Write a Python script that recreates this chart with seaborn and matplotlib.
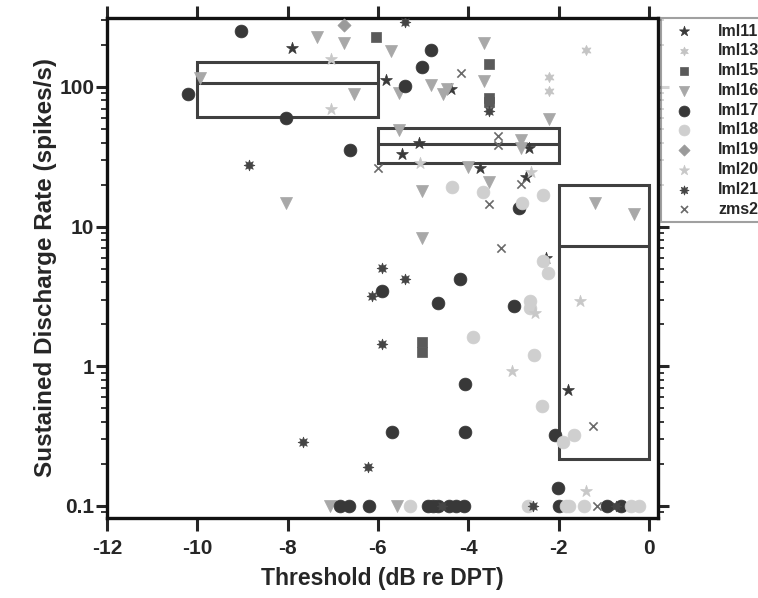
import numpy as np
import pandas as pd
import matplotlib
matplotlib.use("Agg")
import matplotlib.pyplot as plt
import seaborn as sns
from matplotlib.patches import Rectangle
from matplotlib.ticker import FixedLocator, FixedFormatter, LogLocator, NullFormatter

# --- DATA ---
units = ["lml11", "lml13", "lml15", "lml16", "lml17", "lml18", "lml19", "lml20", "lml21", "zms2"]

lml11_x = [-7.9, -5.83, -4.39, -5.1, -2.66, -5.46, -3.73, -2.73, -2.28, -1.8]
lml11_y = [189, 113, 96, 39.5, 36.3, 33, 26.1, 22.5, 6.0, 0.68]

lml13_x = [-2.22, -2.22, -1.4]
lml13_y = [117, 93, 183]

lml15_x = [-6.05, -3.53, -3.53, -3.53, -5.03, -5.03]
lml15_y = [226, 145, 84, 77.6, 1.49, 1.26]

lml16_x = [-7.34, -6.76, -9.93, -6.52, -5.72, -4.83, -5.54, -4.55, -4.46, -3.64, -3.66, -2.22,
           -5.54, -2.84, -2.84, -4.01, -3.55, -5.03, -8.03, -1.2, -0.33, -5.03, -7.05, -5.57]
lml16_y = [228, 205, 115, 88.5, 180, 104, 90, 88.5, 96, 205, 110, 58.6,
           49, 41.5, 36.3, 26.6, 20.8, 17.9, 14.7, 14.7, 12.4, 8.25, 0.1, 0.1]

lml17_x = [-9.03, -10.2, -8.03, -6.61, -4.83, -5.03, -5.39, -2.88, -5.92, -4.19, -4.68, -2.99,
           -4.08, -5.68, -4.08, -2.09, -2.02,
           -6.83, -6.63, -6.19, -4.90, -4.79, -4.68, -4.43, -4.28, -4.10, -2.0, -0.93, -0.62]
lml17_y = [250, 88.5, 59.6, 35.2, 183, 140, 101, 13.5, 3.44, 4.2, 2.83, 2.69,
           0.74, 0.34, 0.34, 0.32, 0.134,
           0.1, 0.1, 0.1, 0.1, 0.1, 0.1, 0.1, 0.1, 0.1, 0.1, 0.1, 0.1]

lml18_x = [-4.37, -3.68, -2.80, -2.35, -2.35, -2.24, -2.64, -2.64, -3.90, -2.55, -2.37, -1.91, -1.66,
           -5.28, -2.68, -1.84, -1.77, -1.44, -0.40, -0.22]
lml18_y = [19.1, 17.6, 14.7, 16.8, 5.65, 4.63, 2.92, 2.6, 1.61, 1.2, 0.52, 0.286, 0.32,
           0.1, 0.1, 0.1, 0.1, 0.1, 0.1, 0.1]

lml19_x = [-6.76]
lml19_y = [276]

lml20_x = [-7.03, -7.03, -5.06, -2.62, -2.53, -1.53, -3.04, -1.40]
lml20_y = [158, 70, 28.4, 24.5, 2.4, 2.92, 0.92, 0.127]

lml21_x = [-5.41, -8.85, -3.55, -5.92, -5.41, -6.14, -5.92, -7.65, -6.21, -4.57, -2.57, -0.73]
lml21_y = [290, 27.5, 67, 5.03, 4.2, 3.17, 1.44, 0.286, 0.189, 0.1, 0.1, 0.1]

zms2_x = [-6.0, -4.15, -3.35, -3.35, -2.84, -3.53, -3.28, -1.24, -1.15]
zms2_y = [26.1, 125, 44.3, 38.2, 20.1, 14.4, 7.0, 0.37, 0.1]

# summary boxes (threshold bins)
box_left = [-10, -6, -2]
box_right = [-6, -2, 0]
box_low = [61, 28.6, 0.216]
box_med = [106, 39, 7.3]
box_high = [151, 51, 20]

xs = [lml11_x, lml13_x, lml15_x, lml16_x, lml17_x, lml18_x, lml19_x, lml20_x, lml21_x, zms2_x]
ys = [lml11_y, lml13_y, lml15_y, lml16_y, lml17_y, lml18_y, lml19_y, lml20_y, lml21_y, zms2_y]

markers = {"lml11": "*", "lml13": (6, 1, 0), "lml15": "s", "lml16": "v", "lml17": "o",
           "lml18": "o", "lml19": "D", "lml20": "*", "lml21": (8, 1, 0), "zms2": "x"}
colors = {"lml11": "#3a3a3a", "lml13": "#c4c4c4", "lml15": "#5a5a5a", "lml16": "#a8a8a8",
          "lml17": "#383838", "lml18": "#cfcfcf", "lml19": "#9a9a9a", "lml20": "#c8c8c8",
          "lml21": "#454545", "zms2": "#6a6a6a"}
sizes = {"lml11": 80, "lml13": 55, "lml15": 50, "lml16": 75, "lml17": 85,
         "lml18": 85, "lml19": 45, "lml20": 80, "lml21": 60, "zms2": 35}

sns.set_style("ticks")
plt.rcParams['font.family'] = ['Liberation Sans', 'DejaVu Sans']

fig = plt.figure(figsize=(7.58, 5.98), dpi=100)
ax = fig.add_axes([0.141, 0.134, 0.727, 0.836])

for u, x, y in zip(units, xs, ys):
    df = pd.DataFrame({"x": x, "y": y})
    if markers[u] == "x":
        sns.scatterplot(data=df, x="x", y="y", marker="x", color=colors[u], s=sizes[u],
                        linewidth=1.2, label=u, ax=ax, zorder=3)
    else:
        sns.scatterplot(data=df, x="x", y="y", marker=markers[u], color=colors[u], s=sizes[u],
                        edgecolor=colors[u], linewidth=0.5, label=u, ax=ax, zorder=3)

for l, r, lo, md, hi in zip(box_left, box_right, box_low, box_med, box_high):
    ax.add_patch(Rectangle((l, lo), r - l, hi - lo, fill=False, edgecolor="#404040",
                           linewidth=2.2, zorder=2))
    ax.hlines(md, l, r, color="#404040", linewidth=2.2, zorder=2)

ax.set_yscale("log")
ax.set_xlim(-12, 0.2)
ax.set_ylim(0.082, 312)
ax.set_xticks([-12, -10, -8, -6, -4, -2, 0])
ax.set_xticklabels(["-12", "-10", "-8", "-6", "-4", "-2", "0"])
ax.yaxis.set_major_locator(FixedLocator([0.1, 1, 10, 100]))
ax.yaxis.set_major_formatter(FixedFormatter(["0.1", "1", "10", "100"]))
ax.yaxis.set_minor_locator(LogLocator(base=10, subs=np.arange(2, 10)))
ax.yaxis.set_minor_formatter(NullFormatter())

for s in ax.spines.values():
    s.set_linewidth(2.4)
    s.set_color("#111111")
ax.tick_params(axis="x", which="major", direction="out", length=9, width=2.2,
               labelsize=15, pad=6, top=True)
ax.tick_params(axis="y", which="major", direction="out", length=8, width=2.2,
               labelsize=15, pad=1, right=True)
ax.tick_params(axis="y", which="minor", direction="out", length=4, width=1.3, right=True)
for lab in ax.get_xticklabels() + ax.get_yticklabels():
    lab.set_fontweight("bold")

ax.set_xlabel("Threshold (dB re DPT)", fontsize=16.5, fontweight="bold", labelpad=7)
ax.set_ylabel("Sustained Discharge Rate (spikes/s)", fontsize=17.5, fontweight="bold", labelpad=2)

leg = ax.legend(loc="upper left", bbox_to_anchor=(1.006, 1.0), frameon=True, fancybox=False,
                prop={"weight": "bold", "size": 11.5}, handletextpad=1.0, labelspacing=0.3,
                borderpad=0.35, borderaxespad=0, markerscale=0.85, handlelength=2.2)
leg.get_frame().set_edgecolor("#888888")
leg.get_frame().set_linewidth(1.5)

plt.savefig("out.png", dpi=100)
